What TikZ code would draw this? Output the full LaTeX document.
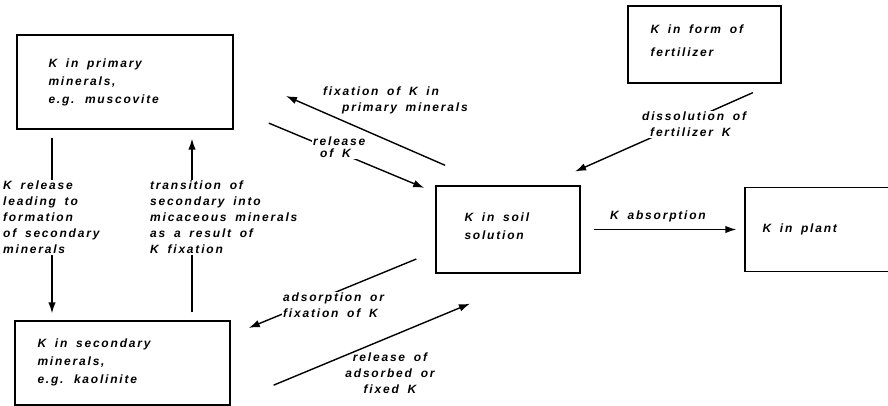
\documentclass[tikz,border=0pt]{standalone}
\usepackage{fontspec}
\setmainfont{Liberation Sans}[LetterSpace=15, WordSpace=1.7]
\usetikzlibrary{arrows.meta}

\begin{document}
\begin{tikzpicture}[x=1pt,y=1pt]
                \tikzstyle{pool}=[draw=black, line width=1.4pt, inner sep=0pt]
                \tikzstyle{flow}=[black, line width=1.4pt, -{Latex[length=11pt,width=7.5pt]}]
                \tikzstyle{note}=[align=left, inner sep=1.5pt, font=\bfseries\itshape\fontsize{12}{16}\selectfont]
                \tikzstyle{inbox}=[note, anchor=west, font=\bfseries\itshape\fontsize{12}{18}\selectfont]
                \tikzstyle{cover}=[note, fill=white]
                \useasboundingbox (0,0) rectangle (888,-406);
                \clip (0,0) rectangle (888,-406);
                \node [pool, minimum width=216pt, minimum height=94pt] (prim) at (125,-82) {};
                \node [pool, minimum width=215pt, minimum height=84pt] (sec) at (122.5,-363) {};
                \node [pool, minimum width=144pt, minimum height=87pt] (soil) at (508,-229.5) {};
                \node [pool, minimum width=153pt, minimum height=77pt] (fert) at (704.5,-44.5) {};
                \node [pool, minimum width=160pt, minimum height=84pt] (plant) at (825,-229.5) {};
                \node [inbox] (primtxt) at ([xshift=30.5pt]prim.west) {K in primary\\minerals,\\e.g. muscovite};
                \node [inbox] (sectxt) at ([xshift=21.5pt, yshift=1pt]sec.west) {K in secondary\\minerals,\\e.g. kaolinite};
                \node [inbox] (soiltxt) at ([xshift=27.5pt, yshift=3pt]soil.west) {K in soil\\solution};
                \node [inbox, font=\bfseries\itshape\fontsize{12}{23}\selectfont] (ferttxt) at ([xshift=21.5pt, yshift=4pt]fert.west) {K in form of\\fertilizer};
                \node [inbox] (planttxt) at ([xshift=16.5pt]plant.west) {K in plant};
                \draw [flow, shorten <=8pt, shorten >=7pt] ([xshift=-73pt]prim.south) -- ([xshift=-73pt]prim.south |- sec.north);
                \draw [flow, shorten <=8pt, shorten >=9pt] ([xshift=67pt]prim.south |- sec.north) -- ([xshift=67pt]prim.south);
                \draw [flow, shorten <=38pt, shorten >=12pt] ([yshift=-26.5pt]prim.east) -- ([yshift=37pt]soil.west);
                \draw [flow, shorten <=50pt, shorten >=57pt] ([xshift=-17pt]soil.north) -- ([yshift=8.75pt]prim.east);
                \draw [flow, shorten <=22pt, shorten >=34pt] ([xshift=68.5pt]fert.south) -- ([xshift=36pt]soil.north);
                \draw [flow, shorten <=13pt, shorten >=8pt] (soil) -- (plant);
                \draw [flow, shorten <=20.5pt, shorten >=19.5pt] ([yshift=-21.7pt]soil.west) -- ([yshift=27.7pt]sec.east);
                \draw [flow, shorten <=46.5pt, shorten >=78pt] ([yshift=-40pt]sec.east) -- ([xshift=34pt]soil.south);
                \node [cover, anchor=west] (krel) at (1.5,-217.5) {K release\\leading to\\formation\\of secondary\\minerals};
                \node [cover, anchor=west] (trans) at (148.5,-217.5) {transition of\\secondary into\\micaceous minerals\\as a result of\\K fixation};
                \node [note, anchor=west] (fixp) at (321.5,-100.5) {fixation of K in\\\hspace*{19pt}primary minerals};
                \node [cover, anchor=west, font=\bfseries\itshape\fontsize{12}{12}\selectfont] (relk) at (311.5,-147.5) {release\\\hspace*{7pt}of K};
                \node [cover, anchor=west] (diss) at (640.5,-124.5) {dissolution of\\\hspace*{8pt}fertilizer K};
                \node [note] (absn) at (658,-216) {K absorption};
                \node [cover, anchor=west] (ads) at (281.5,-305.5) {adsorption or\\fixation of K};
                \node [note, align=center] (rads) at (390,-373) {release of\\adsorbed or\\fixed K};
\end{tikzpicture}
\end{document}
